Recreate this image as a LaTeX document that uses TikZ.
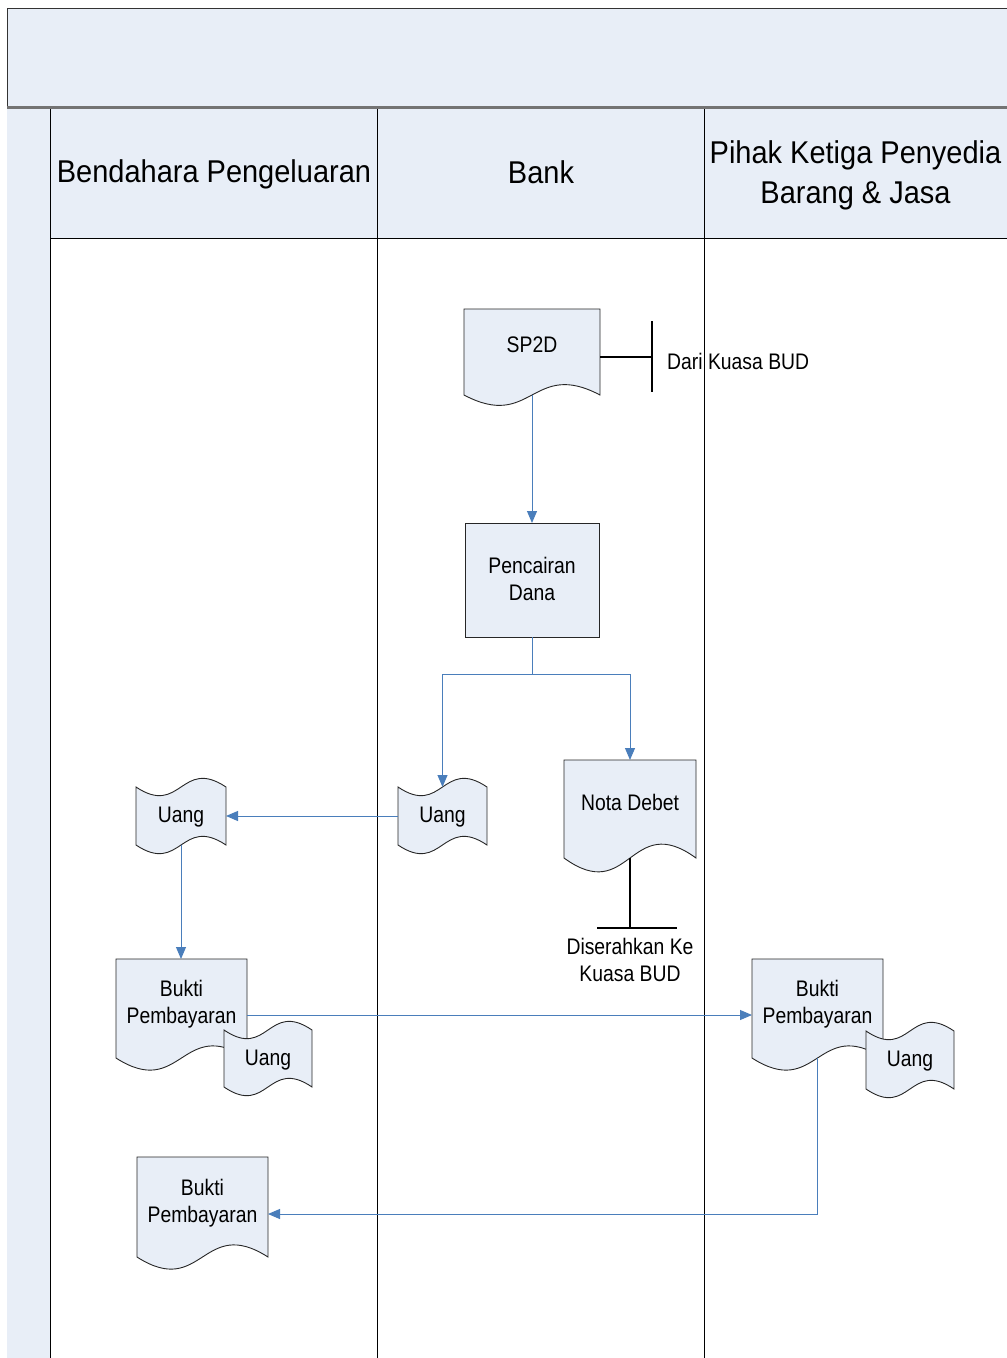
\documentclass[tikz,border=0pt]{standalone}
\usepackage{fontspec}
\setmainfont{Liberation Sans}
\newfontfamily\hdrfont[FakeStretch=0.92]{Liberation Sans}
\newfontfamily\txtfont[FakeStretch=0.86]{Liberation Sans}
\usetikzlibrary{arrows.meta}
\definecolor{lanefill}{RGB}{232,238,247}
\definecolor{flowblue}{RGB}{74,126,187}

\tikzset{
  symbol/.style={fill=lanefill, draw=black!85, line width=0.9pt},
  hold/.style={shape=rectangle, draw=none, inner sep=0pt, outer sep=0pt},
  lbl/.style={inner sep=0pt, align=center, font={\txtfont\fontsize{22.5}{27}\selectfont}},
  hdr/.style={inner sep=0pt, align=center, font={\hdrfont\fontsize{31.5}{40}\selectfont}},
  flow/.style={draw=flowblue, line width=1pt, -{Triangle[length=12pt,width=10pt]}},
  note/.style={draw=black, line width=1.6pt},
  lane/.style={draw=black, line width=1pt},
}

% document symbol: name, x0, ytop, x1, ybase, wave amplitude, text, text lift
\newcommand{\docshape}[8]{%
  \filldraw[symbol] (#2,#3) -- (#4,#3) -- (#4,#5)
    .. controls ({(#2+#4)/2},{#5-#6}) and ({(#2+#4)/2},{#5+#6}) .. (#2,#5) -- cycle;
  \node[hold, minimum width={(#4-#2)*1pt}, minimum height={(#5-#3)*1pt}]
    (#1) at ({(#2+#4)/2},{(#3+#5)/2}) {};
  \node[lbl] (#1-t) at ({(#2+#4)/2},{(#3+#5)/2-#8}) {#7};
}
% punched tape symbol: name, x0, x1, ytop, ybot, wave amplitude, text
\newcommand{\tapeshape}[7]{%
  \filldraw[symbol] (#2,#4)
    .. controls ({(#2+#3)/2},{#4+#6}) and ({(#2+#3)/2},{#4-#6}) .. (#3,#4) -- (#3,#5)
    .. controls ({(#2+#3)/2},{#5-#6}) and ({(#2+#3)/2},{#5+#6}) .. (#2,#5) -- cycle;
  \node[hold, minimum width={(#3-#2)*1pt}, minimum height={(#5-#4)*1pt}]
    (#1) at ({(#2+#3)/2},{(#4+#5)/2}) {};
  \node[lbl] (#1-t) at ([yshift=-1.5pt]#1.center) {#7};
}

\begin{document}
\begin{tikzpicture}[x=1pt, y=-1pt]
\useasboundingbox (0,0) rectangle (1007,1358);

% pool title band
\fill[lanefill] (7,8) rectangle (1012,106);
\draw[draw=black!80, line width=1pt] (7,1362) -- (7,8) -- (1012,8);
\draw[draw=black!55, line width=3pt] (7,107) -- (1012,107);

% left strip and lane headers
\fill[lanefill] (7,109) rectangle (50,1362);
\fill[lanefill] (50,109) rectangle (1012,238);
\draw[lane] (50,109) -- (50,1362);
\draw[lane] (377,109) -- (377,1362);
\draw[lane] (704,109) -- (704,1362);
\draw[lane] (50,238) -- (1012,238);

\node[hdr] (hdr1) at (214,174) {Bendahara Pengeluaran};
\node[hdr] (hdr2) at (541,172) {Bank};
\node[hdr] (hdr3) at (855.5,175) {Pihak Ketiga Penyedia\\Barang \& Jasa};

% symbols
\docshape{sp2d}{464}{309}{600}{395}{36}{SP2D}{7}
\filldraw[symbol] (465,523) rectangle (599,637);
\node[hold, minimum width=134pt, minimum height=114pt] (pd) at (532,580) {};
\node[lbl] (pd-t) at ([yshift=1pt]pd.center) {Pencairan\\Dana};
\tapeshape{uangB}{398}{487}{787}{845}{30}{Uang}
\docshape{nota}{564}{760}{696}{858}{48}{Nota Debet}{7}
\tapeshape{uangL}{136}{226}{787}{845}{30}{Uang}
\docshape{bl}{116}{959}{247}{1058}{42}{Bukti\\Pembayaran}{4}
\tapeshape{uangL2}{224}{312}{1030}{1087}{30}{Uang}
\docshape{br}{752}{959}{883}{1058}{42}{Bukti\\Pembayaran}{4}
\tapeshape{uangR}{866}{954}{1031}{1089}{30}{Uang}
\docshape{bb}{137}{1157}{268}{1257}{42}{Bukti\\Pembayaran}{4}

% annotations
\coordinate (ann1) at (652,357);
\draw[note] (sp2d.east |- ann1) -- (ann1);
\draw[note] ([yshift=36pt]ann1) -- ([yshift=-35pt]ann1);
\node[lbl, anchor=west] (ann1-t) at (667,361) {Dari Kuasa BUD};
\coordinate (ann2) at (630,928);
\draw[note] (nota.south) -- (ann2);
\draw[note] ([xshift=-33pt]ann2) -- ([xshift=47pt]ann2);
\node[lbl] (ann2-t) at (630,960) {Diserahkan Ke\\Kuasa BUD};

% flows
\coordinate (split) at (532,674);
\draw[flow] (sp2d.south) -- (pd.north);
\draw[flow] (pd.south) -- (split) -| (uangB.north);
\draw[flow] (split) -| (nota.north);
\draw[flow] (uangB.west) -- (uangL.east);
\draw[flow] (uangL.south) -- (uangL.south |- bl.north);
\draw[flow] ([yshift=-6.5pt]bl.east) -- ([yshift=-6.5pt]br.west);
\draw[flow] (br.south) |- ([yshift=-7pt]bb.east);
\end{tikzpicture}
\end{document}
